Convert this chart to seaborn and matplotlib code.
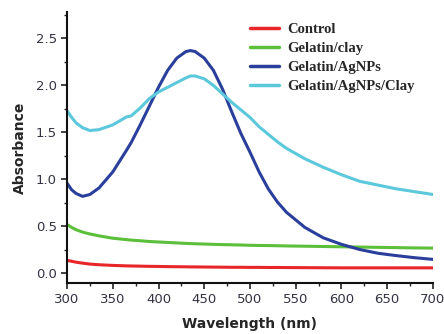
import numpy as np
import pandas as pd
import seaborn as sns
import matplotlib.pyplot as plt
from matplotlib.ticker import MultipleLocator

# wavelengths (nm)
wl = [300, 305, 310, 317, 325, 335, 350, 365, 370, 380, 390, 400, 410, 420, 430, 435, 440,
      450, 460, 470, 480, 490, 500, 510, 520, 530, 540, 560, 580, 600, 620, 640, 660, 680, 700]

control = [0.14, 0.13, 0.12, 0.11, 0.10, 0.093, 0.086, 0.081, 0.08, 0.078, 0.076, 0.075, 0.073, 0.072,
           0.071, 0.07, 0.07, 0.069, 0.068, 0.067, 0.066, 0.066, 0.065, 0.065, 0.064, 0.064, 0.063,
           0.062, 0.061, 0.06, 0.06, 0.06, 0.06, 0.06, 0.06]
gel_clay = [0.52, 0.49, 0.465, 0.44, 0.42, 0.40, 0.375, 0.36, 0.355, 0.348, 0.34, 0.335, 0.33, 0.325,
            0.32, 0.318, 0.316, 0.313, 0.31, 0.307, 0.305, 0.303, 0.30, 0.298, 0.297, 0.295, 0.293,
            0.29, 0.287, 0.284, 0.281, 0.278, 0.275, 0.272, 0.27]
gel_ag = [0.96, 0.89, 0.85, 0.82, 0.84, 0.91, 1.08, 1.31, 1.39, 1.58, 1.78, 1.98, 2.16, 2.29,
          2.36, 2.37, 2.36, 2.29, 2.16, 1.96, 1.72, 1.49, 1.29, 1.08, 0.90, 0.76, 0.65, 0.49,
          0.38, 0.31, 0.255, 0.215, 0.19, 0.168, 0.15]
gel_ag_clay = [1.73, 1.66, 1.60, 1.55, 1.52, 1.53, 1.58, 1.665, 1.675, 1.76, 1.86, 1.93, 1.98, 2.03,
               2.08, 2.10, 2.10, 2.07, 2.00, 1.91, 1.82, 1.74, 1.66, 1.56, 1.48, 1.40, 1.33, 1.22,
               1.13, 1.05, 0.98, 0.94, 0.90, 0.87, 0.84]

names = ["Control", "Gelatin/clay", "Gelatin/AgNPs", "Gelatin/AgNPs/Clay"]
colors = ["#e8262a", "#5bbf3a", "#2a3f9c", "#5cc8dc"]

df = pd.DataFrame({"wl": wl, names[0]: control, names[1]: gel_clay,
                   names[2]: gel_ag, names[3]: gel_ag_clay})
df = df.melt(id_vars="wl", var_name="sample", value_name="abs")

sns.set_style("ticks")
fig = plt.figure(figsize=(4.44, 3.34), dpi=100)
ax = fig.add_axes([0.151, 0.153, 0.824, 0.811])

sns.lineplot(data=df, x="wl", y="abs", hue="sample", hue_order=names,
             palette=colors, linewidth=2.2, ax=ax)

ax.set_xlim(300, 700)
ax.set_ylim(-0.1, 2.78)
ax.xaxis.set_major_locator(MultipleLocator(50))
ax.xaxis.set_minor_locator(MultipleLocator(25))
ax.yaxis.set_major_locator(MultipleLocator(0.5))
ax.yaxis.set_minor_locator(MultipleLocator(0.25))
ax.tick_params(which="major", direction="out", length=4, width=1.2, labelsize=9.5,
               colors="#222222", labelcolor="#333344")
ax.tick_params(which="minor", direction="out", length=2.5, width=1)
for s in ["left", "bottom"]:
    ax.spines[s].set_linewidth(1.5)
    ax.spines[s].set_color("#111111")
sns.despine(ax=ax)

ax.set_xlabel("Wavelength (nm)", fontsize=10, fontweight="bold", labelpad=8)
ax.set_ylabel("Absorbance", fontsize=10, fontweight="bold", labelpad=6)

leg = ax.legend(loc="upper right", bbox_to_anchor=(0.985, 1.01), frameon=False,
                handlelength=2.0, handletextpad=0.5, labelspacing=0.4,
                prop={"family": "Liberation Serif", "weight": "bold", "size": 10.5})
for line in leg.get_lines():
    line.set_linewidth(2.5)

fig.savefig("out.png", dpi=100)
